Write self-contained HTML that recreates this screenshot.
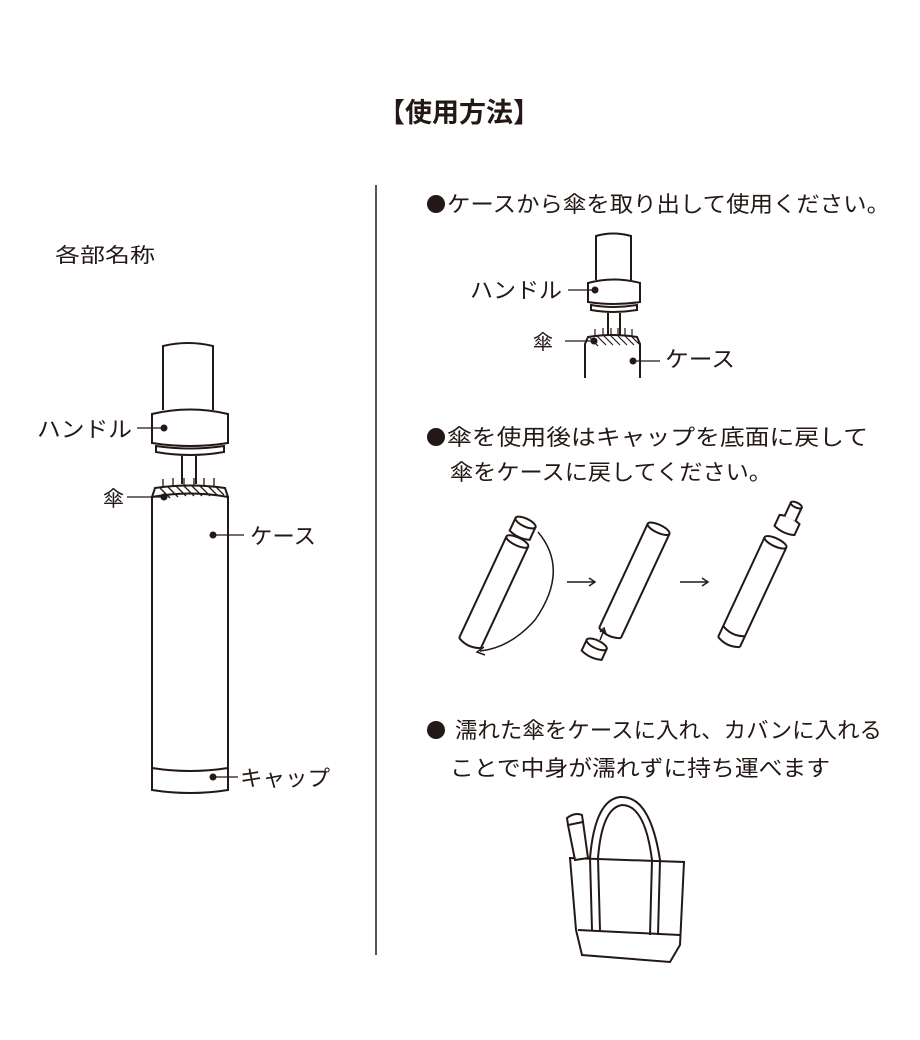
<!DOCTYPE html>
<html><head><meta charset="utf-8"><style>
html,body{margin:0;padding:0;background:#fff;}
svg{display:block;}
text{font-family:"Liberation Sans","Noto Sans CJK JP",sans-serif;fill:#231815;}
</style></head><body>
<svg width="920" height="1040" viewBox="0 0 920 1040" xmlns="http://www.w3.org/2000/svg">
<text x="378" y="122" font-size="27" font-weight="bold" textLength="162" lengthAdjust="spacingAndGlyphs">【使用方法】</text>
<text x="55" y="262" font-size="20" textLength="100" lengthAdjust="spacingAndGlyphs">各部名称</text>
<line x1="376" y1="185" x2="376" y2="955" stroke="#231815" stroke-width="1.5"/>

<!-- left umbrella -->
<g fill="#fff" stroke="#231815" stroke-width="2">
<path d="M163 410 V346 Q188 340 213 346 V410"/>
<path d="M152 443 V414 Q190 405 228 414 V443 Q190 449 152 443 Z"/>
<path d="M156 446 Q190 451 224 446 L224 452 Q190 458 156 452 Z"/>
<line x1="182" y1="456" x2="182" y2="484"/>
<line x1="196" y1="456" x2="196" y2="484"/>
<path d="M152 790 V497 Q190 490 228 497 V790 Q190 796 152 790 Z"/>
<path d="M152 768 Q190 774 228 768" fill="none"/>
<path d="M152 497 L155 488 Q190 483 225 488 L228 497" fill="none"/>
</g>
<g stroke="#231815" stroke-width="1.3" fill="none">
<path d="M160 488 l10 10 M168 487 l10 10 M176 486 l10 10 M184 486 l10 10 M192 486 l10 10 M200 486 l10 10 M208 486 l10 10 M216 487 l8 8"/>
<path d="M163 487 v-8 M173 486 v-8 M184 486 v-8 M194 486 v-8 M204 486 v-8 M214 486 v-8"/>
<line x1="137" y1="428" x2="162" y2="428"/>
<line x1="127" y1="497" x2="162" y2="497"/>
<line x1="216" y1="535" x2="244" y2="535"/>
<line x1="216" y1="777" x2="238" y2="777"/>
</g>
<g fill="#231815"><circle cx="164" cy="428" r="3.5"/><circle cx="164" cy="497" r="3.5"/><circle cx="213" cy="535" r="3.5"/><circle cx="213" cy="777" r="3.5"/></g>
<text x="37" y="437" font-size="22" textLength="95" lengthAdjust="spacingAndGlyphs">ハンドル</text>
<text x="103" y="506" font-size="21">傘</text>
<text x="250" y="544" font-size="22" textLength="66" lengthAdjust="spacingAndGlyphs">ケース</text>
<text x="240" y="786" font-size="22" textLength="90" lengthAdjust="spacingAndGlyphs">キャップ</text>

<!-- right texts -->
<g fill="#231815"><circle cx="436" cy="204" r="9"/><circle cx="436" cy="437" r="9"/><circle cx="436" cy="730" r="9"/></g>
<text x="447" y="212" font-size="22" textLength="443" lengthAdjust="spacingAndGlyphs">ケースから傘を取り出して使用ください。</text>
<text x="447" y="445" font-size="22" textLength="421" lengthAdjust="spacingAndGlyphs">傘を使用後はキャップを底面に戻して</text>
<text x="450" y="480" font-size="22" textLength="322" lengthAdjust="spacingAndGlyphs">傘をケースに戻してください。</text>
<text x="455" y="738" font-size="22" textLength="427" lengthAdjust="spacingAndGlyphs">濡れた傘をケースに入れ、カバンに入れる</text>
<text x="450" y="776" font-size="22" textLength="380" lengthAdjust="spacingAndGlyphs">ことで中身が濡れずに持ち運べます</text>

<!-- right umbrella 1 -->
<g fill="#fff" stroke="#231815" stroke-width="2">
<path d="M596 280 V236 Q613 231 631 236 V280"/>
<path d="M588 302 V283 Q614 276 640 283 V302 Q614 306 588 302 Z"/>
<path d="M591 305 Q614 309 637 305 L637 310 Q614 314 591 310 Z"/>
<line x1="608" y1="313" x2="608" y2="336"/>
<line x1="620" y1="313" x2="620" y2="336"/>
<path d="M585 378 V344 L588 337 Q612 333 637 337 L640 344 V378" fill="none"/>
</g>
<g stroke="#231815" stroke-width="1.2" fill="none">
<path d="M590 338 l8 8 M597 336 l9 9 M604 336 l9 9 M611 336 l9 9 M618 336 l9 9 M625 336 l9 9 M632 337 l7 7"/>
<path d="M595 336 v-7 M603 335 v-7 M611 335 v-7 M618 335 v-7 M625 335 v-7 M632 336 v-7"/>
<line x1="568" y1="290" x2="594" y2="290"/>
<line x1="565" y1="341" x2="592" y2="341"/>
<line x1="636" y1="361" x2="660" y2="361"/>
</g>
<g fill="#231815"><circle cx="595" cy="290" r="3.5"/><circle cx="594" cy="341" r="3.5"/><circle cx="633" cy="361" r="3.5"/></g>
<text x="470" y="298" font-size="22" textLength="92" lengthAdjust="spacingAndGlyphs">ハンドル</text>
<text x="533" y="349" font-size="20">傘</text>
<text x="665" y="367" font-size="22" textLength="70" lengthAdjust="spacingAndGlyphs">ケース</text>

<!-- steps -->
<g fill="#fff" stroke="#231815" stroke-width="2">
<g transform="translate(470,643) rotate(25)">
<path d="M-12 0 V-112 M12 0 V-112"/>
<ellipse cx="0" cy="-112" rx="12" ry="4"/>
<path d="M-12 0 Q0 6 12 0"/>
</g>
<g transform="translate(523,528) rotate(25)">
<path d="M-11 8 V-6 Q0 -10 11 -6 V8 Q0 12 -11 8 Z"/>
<ellipse cx="0" cy="-6" rx="11" ry="4"/>
</g>
<path d="M538 532 Q570 570 535 620 Q510 648 480 651" fill="none" stroke-width="1.5"/>
<path d="M484 647 L477 652 L485 655" fill="none" stroke-width="1.5"/>
<g transform="translate(610,633) rotate(25)">
<path d="M-12 0 V-115 M12 0 V-115"/>
<ellipse cx="0" cy="-115" rx="12" ry="4"/>
<path d="M-12 0 Q0 6 12 0"/>
</g>
<g transform="translate(595,648) rotate(25)">
<path d="M-11 -4 V8 Q0 12 11 8 V-4"/>
<ellipse cx="0" cy="-4" rx="11" ry="4"/>
</g>
<g transform="translate(729,642) rotate(25)">
<path d="M-12 0 V-110 M12 0 V-110"/>
<ellipse cx="0" cy="-110" rx="12" ry="4"/>
<path d="M-12 0 Q0 6 12 0"/>
<path d="M-12 -12 Q0 -6 12 -12" fill="none"/>
</g>
<g transform="translate(787,525) rotate(25)">
<path d="M-11 6 V-6 Q0 -10 11 -6 V6 Q0 10 -11 6 Z"/>
<path d="M-6 -7 V-22 Q0 -25 6 -22 V-7"/>
<ellipse cx="0" cy="-22" rx="6" ry="2.5"/>
</g>
</g>
<g stroke="#231815" stroke-width="1.5" fill="none">
<line x1="567" y1="582" x2="594" y2="582"/><path d="M589 578 L595 582 L589 586"/>
<line x1="680" y1="582" x2="707" y2="582"/><path d="M702 578 L708 582 L702 586"/>
<line x1="600" y1="640" x2="604" y2="630"/><path d="M600 632 L604 628 L606 634"/>
</g>

<!-- bag -->
<g fill="none" stroke="#231815" stroke-width="2">
<path d="M570 858 L684 862 L680 945 L670 962 L582 955 L576 930 Z" fill="#fff"/>
<path d="M578 930 L680 935"/>
<path d="M568 825 L575 860 L588 858 L583 822 Z" fill="#fff"/>
<path d="M568 825 L567 818 Q575 812 582 815 L583 822"/>
<path d="M592 930 L590 858 Q595 800 620 797 Q650 795 660 860 L658 935"/>
<path d="M600 930 L598 858 Q602 808 622 805 Q645 805 652 860 L650 935"/>
</g>
</svg>
</body></html>
